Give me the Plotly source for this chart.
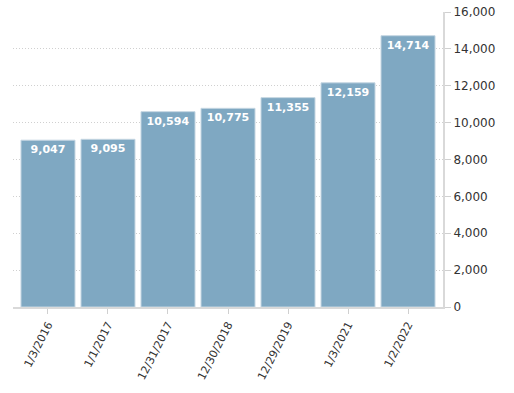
import plotly.graph_objects as go

categories = ["1/3/2016", "1/1/2017", "12/31/2017", "12/30/2018", "12/29/2019", "1/3/2021", "1/2/2022"]
values = [9047, 9095, 10594, 10775, 11355, 12159, 14714]
y_ticks = [0, 2000, 4000, 6000, 8000, 10000, 12000, 14000, 16000]

fig = go.Figure(go.Bar(
    x=list(range(len(categories))),
    y=values,
    width=0.9,
    marker=dict(color="#7fa8c2", line=dict(color="#c5d6e2", width=1)),
    text=[f"{v:,}" for v in values],
    textposition="inside",
    insidetextanchor="end",
    textangle=0,
    textfont=dict(family="DejaVu Sans", size=11, color="white", weight="bold"),
    hoverinfo="skip",
))

fig.update_layout(
    width=514, height=393,
    margin=dict(l=13, r=71, t=12, b=86),
    plot_bgcolor="white", paper_bgcolor="white",
    showlegend=False,
    font=dict(family="DejaVu Sans", size=11, color="#333333"),
    bargap=0.1,
)
fig.update_xaxes(
    range=[-0.583, 6.583],
    automargin=False,
    tickmode="array",
    tickvals=list(range(len(categories))),
    ticktext=categories,
    tickangle=-63,
    showgrid=False,
    showline=True, linecolor="#d9d9d9", linewidth=2,
    ticks="outside", ticklen=5, tickcolor="#d0d0d0",
    tickfont=dict(family="DejaVu Sans", size=11, color="#333333"),
    zeroline=False,
)
fig.update_yaxes(
    range=[0, 16000],
    automargin=False,
    side="right",
    tickmode="array",
    tickvals=y_ticks,
    ticktext=[f"{t:,}" for t in y_ticks],
    ticklabeloverflow="allow",
    showgrid=True, gridcolor="#d0d0d0", griddash="1px,2px", gridwidth=1,
    showline=True, linecolor="#d9d9d9", linewidth=2,
    ticks="outside", ticklen=6, tickcolor="#d0d0d0",
    tickfont=dict(family="DejaVu Sans", size=12, color="#333333"),
    zeroline=False,
)

fig.write_html("out.html", config={"displayModeBar": False},
               post_script="document.body.style.margin='0';")
